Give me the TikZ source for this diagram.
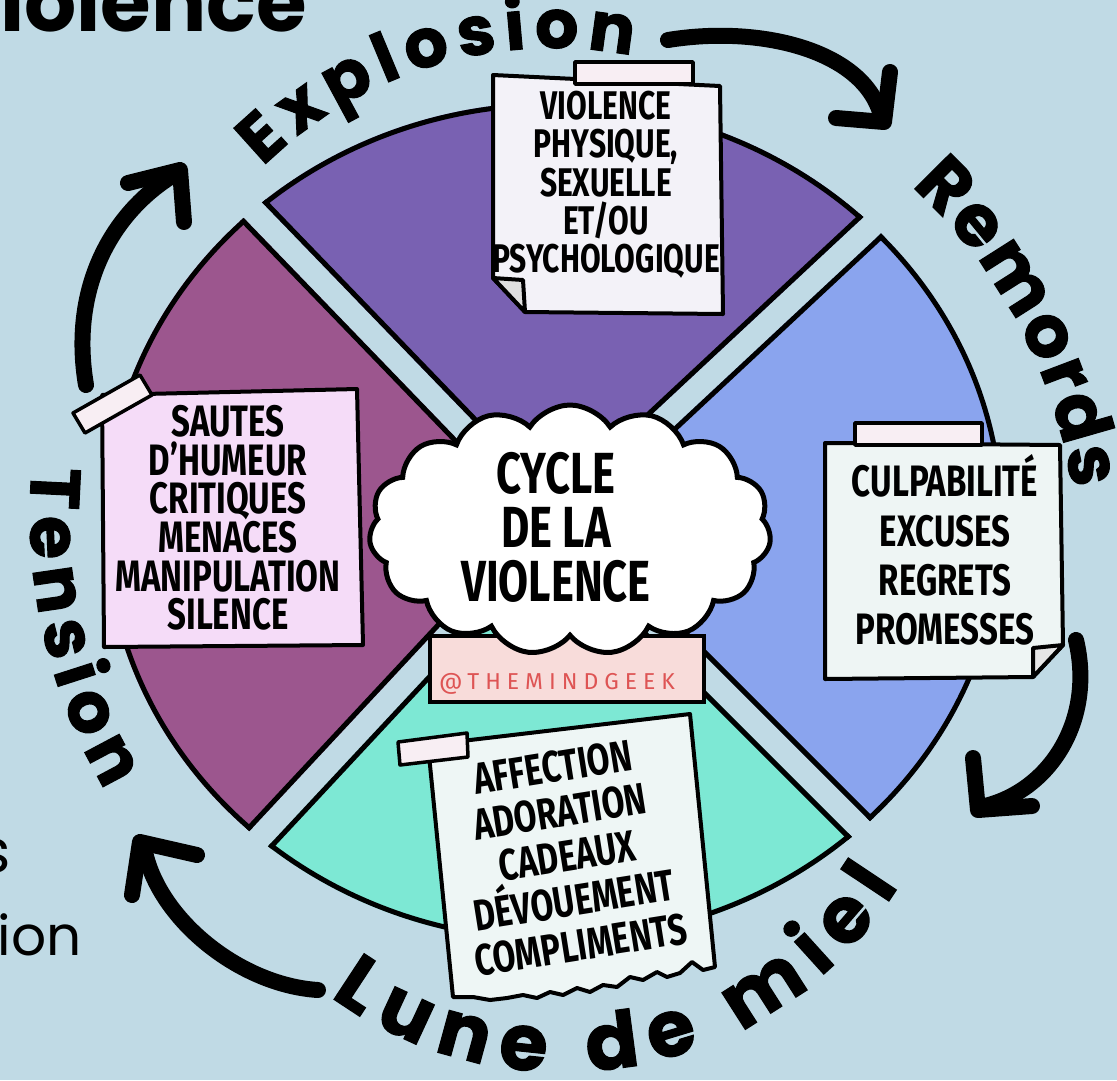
\documentclass[tikz,border=0pt]{standalone}
\usepackage{fontspec}
\usetikzlibrary{calc,shapes.symbols,decorations.text}
\newfontfamily\popfont{Poppins}
\newfontfamily\arcfam{Poppins}[FakeBold=1.5]
\newfontfamily\handfont{Fira Sans}[FakeStretch=0.75]
\newfontfamily\wmfont{Fira Sans}[LetterSpace=26]
\definecolor{bgblue}{RGB}{192,218,229}
\definecolor{secTop}{RGB}{121,97,178}
\definecolor{secLeft}{RGB}{156,86,142}
\definecolor{secRight}{RGB}{138,164,238}
\definecolor{secBottom}{RGB}{125,232,212}
\definecolor{noteTop}{RGB}{243,242,248}
\definecolor{noteLeft}{RGB}{245,220,248}
\definecolor{noteRight}{RGB}{238,245,244}
\definecolor{noteBottom}{RGB}{238,246,245}
\definecolor{tapecol}{RGB}{248,238,243}
\definecolor{bannercol}{RGB}{248,220,218}
\definecolor{wmred}{RGB}{222,84,84}
\newcommand\arcfont[1]{\arcfam\bfseries\fontsize{#1}{#1}\selectfont}
\def\gap{12}
\newcommand\hplane[2]{($(C)+(#1#290:\gap)+(#1:1500)$) -- ($(C)+(#1#290:\gap)+(#1+180:1500)$) -- ($(C)+(#1#290:1500)+(#1+180:1500)$) -- ($(C)+(#1#290:1500)+(#1:1500)$) -- cycle}
\newcommand\wheelpart[3]{%
  \begin{scope}
    \clip \hplane{#1}{+};
    \clip \hplane{#2}{-};
    \clip (C) ellipse [x radius=450, y radius=420];
    \fill[#3] (C) ellipse [x radius=450, y radius=420];
    \draw[line width=10pt] \hplane{#1}{+};
    \draw[line width=10pt] \hplane{#2}{-};
    \draw[line width=10pt] (C) ellipse [x radius=450, y radius=420];
  \end{scope}}
\tikzset{
  notebox/.style={draw=black, line width=4pt, line join=round},
  tapebox/.style={draw=black, line width=3.5pt, fill=tapecol, line join=round},
  notetext/.style={align=center, inner sep=0pt, text=black},
  arrowline/.style={line width=16pt, line cap=round, line join=round},
}
\begin{document}
\begin{tikzpicture}[x=1pt,y=-1pt]
\useasboundingbox (0,0) rectangle (1117,1080);
\fill[bgblue] (0,0) rectangle (1117,1080);
\clip (0,0) rectangle (1117,1080);
\coordinate (C) at (554,522);
% wheel
\wheelpart{-134}{-43}{secTop}
\wheelpart{-43}{45}{secRight}
\wheelpart{45}{133}{secBottom}
\wheelpart{133}{226}{secLeft}
% banner and cloud
\draw[fill=bannercol, line width=4pt] (430,636) rectangle (704,702);
\node[text=wmred, inner sep=0pt, font=\wmfont\fontsize{23}{23}\selectfont] (wm) at (557,684) {@THEMINDGEEK};
\node[cloud, draw=black, fill=white, line width=5pt, cloud puffs=15, cloud puff arc=115, aspect=1.65, minimum width=402pt, minimum height=250pt, inner sep=0pt] (cloud) at (570,530) {};
\node[notetext, font=\handfont\bfseries\fontsize{58}{54}\selectfont] (cloudtext) at (556,527) {CYCLE\\DE LA\\VIOLENCE};
% top note
\draw[notebox, fill=noteTop] (493,75) -- (720,86) -- (723,314) -- (525,312) -- (493,278) -- cycle;
\draw[notebox, fill=gray!25] (493,278) -- (523,280) -- (525,312) -- cycle;
\draw[tapebox] (575,62) rectangle (693,84);
\node[notetext, font=\handfont\bfseries\fontsize{40}{38.3}\selectfont] (ntop) at (606,185) {VIOLENCE\\PHYSIQUE,\\SEXUELLE\\ET/OU\\PSYCHOLOGIQUE};
% left note
\draw[notebox, fill=noteLeft] (102,395) -- (357,389) -- (363,645) -- (104,647) -- cycle;
\draw[tapebox] (73,413) -- (140,375) -- (152,395) -- (85,433) -- cycle;
\node[notetext, font=\handfont\bfseries\fontsize{44}{38.6}\selectfont] (nleft) at (228,518) {SAUTES\\D’HUMEUR\\CRITIQUES\\MENACES\\MANIPULATION\\SILENCE};
% right note
\draw[notebox, fill=noteRight] (825,443) -- (1060,445) -- (1063,645) -- (1033,677) -- (825,679) -- cycle;
\draw[notebox, fill=gray!20] (1033,648) -- (1063,645) -- (1033,677) -- cycle;
\draw[tapebox] (855,423) rectangle (982,445);
\node[notetext, font=\handfont\bfseries\fontsize{44}{49.3}\selectfont] (nright) at (945,550) {CULPABILITÉ\\EXCUSES\\REGRETS\\PROMESSES};
% bottom note
\draw[notebox, fill=noteBottom] (428,745) -- (690,714) -- (715,967) -- (703,970) -- (692,962) -- (680,973) -- (667,977) -- (657,972) -- (643,980) -- (630,977) -- (617,987) -- (603,985) -- (590,992) -- (577,988) -- (563,995) -- (550,992) -- (537,998) -- (523,995) -- (507,998) -- (490,1000) -- (473,997) -- (453,997) -- cycle;
\draw[tapebox] (398,742) -- (467,733) -- (468,757) -- (400,765) -- cycle;
\node[notetext, rotate=9, font=\handfont\bfseries\fontsize{44}{45}\selectfont] (nbottom) at (567,856) {AFFECTION\\ADORATION\\CADEAUX\\DÉVOUEMENT\\COMPLIMENTS};
% curved labels
\coordinate (EC) at (553,462);
\coordinate (RC) at (564,565);
\coordinate (TC) at (574,514);
\coordinate (LC) at (563,676);
\path[decorate, decoration={text along path, text align=fit to path, text={|\arcfont{68}|Explosion}}]
  ($(EC)+(-134.5:414)$) arc [start angle=-134.5, end angle=-79, radius=414];
\path[decorate, decoration={text along path, text align=fit to path, text={|\arcfont{72}|Remords}}]
  ($(RC)+(-47.5:514)$) arc [start angle=-47.5, end angle=-8.5, radius=514];
\path[decorate, decoration={text along path, text align=fit to path, text={|\arcfont{70}|Tension}}]
  ($(TC)+(185:544)$) arc [start angle=185, end angle=149.5, radius=544];
\path[decorate, decoration={text along path, text align=fit to path, text={|\arcfont{78}|Lune de miel}}]
  ($(LC)+(126:396)$) arc [start angle=126, end angle=32, radius=396];
% arrows
\coordinate (a1s) at (668,40);
\coordinate (a1t) at (884,122);
\draw[arrowline] (a1s) .. controls (760,25) and (860,50) .. (880,112);
\draw[arrowline] (836,118) -- (a1t) -- (890,72);
\coordinate (a2s) at (1076,640);
\coordinate (a2t) at (978,810);
\draw[arrowline] (a2s) .. controls (1095,720) and (1050,790) .. (985,806);
\draw[arrowline] (973,758) -- (a2t) -- (1032,806);
\coordinate (a3s) at (318,990);
\coordinate (a3t) at (140,842);
\draw[arrowline] (a3s) .. controls (240,985) and (160,920) .. (145,852);
\draw[arrowline] (197,855) -- (a3t) -- (132,895);
\coordinate (a4s) at (86,385);
\coordinate (a4t) at (180,170);
\draw[arrowline] (a4s) .. controls (70,290) and (110,215) .. (172,176);
\draw[arrowline] (128,183) -- (a4t) -- (184,222);
% cropped texts
\node[anchor=base west, inner sep=0pt, font=\popfont\bfseries\fontsize{82}{82}\selectfont] (titlefrag) at (0,31) {iolence};
\node[anchor=base east, inner sep=0pt, font=\popfont\fontsize{60}{60}\selectfont] (frag1) at (11,872) {s};
\node[anchor=base east, inner sep=0pt, font=\popfont\fontsize{55}{55}\selectfont] (frag2) at (82,955) {ion};
\end{tikzpicture}
\end{document}
